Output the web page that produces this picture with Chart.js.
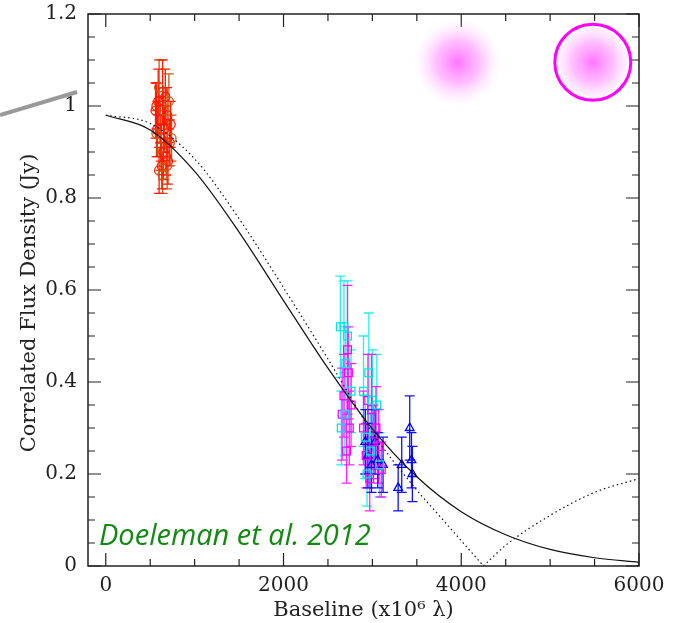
<!DOCTYPE html>
<html>
<head>
<meta charset="utf-8">
<script src="https://cdn.jsdelivr.net/npm/chart.js@4/dist/chart.umd.min.js"></script>
<style>
  html, body { margin: 0; padding: 0; background: #fff; }
  canvas { display: block; }
</style>
</head>
<body>
<canvas id="visChart" width="678" height="623"></canvas>
<script>
// model curves, read along baseline (x10^6 lambda)
const modelX = [0, 500, 1000, 1500, 2000, 2500, 3000, 3500, 4000, 4500, 5000, 5500, 6000];
const gaussY = [0.98, 0.948, 0.858, 0.726, 0.577, 0.43, 0.298, 0.194, 0.118, 0.068, 0.036, 0.018, 0.008];

const ringX = [0, 500, 1000, 1500, 2000, 2500, 3000, 3500, 3750, 4000, 4250, 4500, 5000, 5500, 6000];
const ringY = [0.98, 0.962, 0.885, 0.755, 0.605, 0.45, 0.29, 0.165, 0.11, 0.055, 0.0, 0.045, 0.11, 0.16, 0.19];

// measured points: [baseline, flux, sigma]
const redPts = [
  [560, 0.99, 0.06], [590, 1.01, 0.07], [610, 0.97, 0.05], [640, 1.03, 0.07],
  [660, 0.95, 0.05], [690, 0.98, 0.06], [620, 0.93, 0.05], [650, 0.90, 0.06],
  [700, 0.88, 0.05], [600, 0.86, 0.05], [720, 0.92, 0.05], [580, 0.95, 0.06],
  [730, 0.96, 0.05], [570, 1.00, 0.05], [680, 0.89, 0.04], [630, 0.87, 0.05],
  [670, 1.02, 0.06]
];
const orangePts = [
  [600, 1.04, 0.06], [650, 0.99, 0.05], [710, 1.01, 0.06], [620, 0.91, 0.05],
  [690, 0.87, 0.05], [570, 0.94, 0.05], [740, 0.93, 0.05], [640, 0.85, 0.04]
];
const cyanPts = [
  [2640, 0.52, 0.11], [2680, 0.52, 0.10], [2720, 0.50, 0.12], [2700, 0.44, 0.08],
  [2760, 0.38, 0.09], [2650, 0.30, 0.08], [2690, 0.33, 0.09], [2900, 0.38, 0.12],
  [2960, 0.42, 0.13], [3000, 0.36, 0.11], [2920, 0.28, 0.09], [2980, 0.25, 0.08],
  [3050, 0.35, 0.11], [3080, 0.22, 0.07], [2940, 0.20, 0.07]
];
const magentaPts = [
  [2660, 0.33, 0.10], [2720, 0.47, 0.14], [2730, 0.42, 0.10], [2680, 0.37, 0.09],
  [2740, 0.30, 0.08], [2760, 0.35, 0.09], [2710, 0.25, 0.07], [2900, 0.30, 0.08],
  [2950, 0.36, 0.10], [2990, 0.34, 0.12], [2930, 0.24, 0.07], [3010, 0.27, 0.08],
  [3040, 0.30, 0.09], [3070, 0.26, 0.08], [2970, 0.19, 0.07], [3100, 0.21, 0.06]
];
const bluePts = [
  [2920, 0.27, 0.07], [2950, 0.24, 0.07], [2990, 0.22, 0.06], [3030, 0.27, 0.07],
  [3060, 0.23, 0.06], [3120, 0.22, 0.06], [3290, 0.17, 0.05], [3330, 0.22, 0.06],
  [3420, 0.30, 0.07], [3440, 0.23, 0.06], [3450, 0.20, 0.06]
];

const xMajor = [0, 2000, 4000, 6000];
const yMajor = [0, 0.2, 0.4, 0.6, 0.8, 1, 1.2];
const yTitle = 'Correlated Flux Density (Jy)';

const toXY = pts => pts.map(p => ({ x: p[0], y: p[1], err: p[2] }));
const zipXY = (xs, ys) => xs.map((x, i) => ({ x: x, y: ys[i] }));

const serif = '"DejaVu Serif", serif';

function pointSet(pts, color, barColor, style, r) {
  return {
    type: 'scatter',
    data: toXY(pts),
    pointStyle: style,
    pointRadius: r,
    borderColor: color,
    backgroundColor: 'rgba(0,0,0,0)',
    borderWidth: 1.3,
    errColor: barColor
  };
}

// error bars drawn under the markers
const errorBars = {
  id: 'errorBars',
  beforeDatasetsDraw(chart) {
    const ctx = chart.ctx;
    const xs = chart.scales.x, ys = chart.scales.y;
    ctx.save();
    chart.data.datasets.forEach(ds => {
      if (!ds.errColor) return;
      ctx.strokeStyle = ds.errColor;
      ctx.lineWidth = 1.3;
      ds.data.forEach(d => {
        const px = xs.getPixelForValue(d.x);
        const top = ys.getPixelForValue(d.y + d.err);
        const bot = ys.getPixelForValue(d.y - d.err);
        ctx.beginPath();
        ctx.moveTo(px, top); ctx.lineTo(px, bot);
        ctx.moveTo(px - 5, top); ctx.lineTo(px + 5, top);
        ctx.moveTo(px - 5, bot); ctx.lineTo(px + 5, bot);
        ctx.stroke();
      });
    });
    ctx.restore();
  }
};

// frame with inward ticks on all four sides
const frame = {
  id: 'frame',
  afterDraw(chart) {
    const ctx = chart.ctx, a = chart.chartArea;
    const xs = chart.scales.x, ys = chart.scales.y;
    ctx.save();
    ctx.strokeStyle = '#222';
    ctx.lineWidth = 1.5;
    ctx.strokeRect(a.left, a.top, a.right - a.left, a.bottom - a.top);
    ctx.lineWidth = 1.2;
    ctx.beginPath();
    for (let v = 0; v <= 6000; v += 500) {
      const len = v % 2000 === 0 ? 13 : 7;
      const px = xs.getPixelForValue(v);
      ctx.moveTo(px, a.bottom); ctx.lineTo(px, a.bottom - len);
      ctx.moveTo(px, a.top); ctx.lineTo(px, a.top + len);
    }
    for (let i = 0; i <= 24; i++) {
      const v = i * 0.05;
      const len = i % 4 === 0 ? 13 : 7;
      const py = ys.getPixelForValue(v);
      ctx.moveTo(a.left, py); ctx.lineTo(a.left + len, py);
      ctx.moveTo(a.right, py); ctx.lineTo(a.right - len, py);
    }
    ctx.stroke();

    // y title sits a little below the middle of the frame
    ctx.translate(30, (a.top + a.bottom) / 2 + 13);
    ctx.rotate(-Math.PI / 2);
    ctx.fillStyle = '#222';
    ctx.font = '21px ' + serif;
    ctx.textAlign = 'center';
    ctx.textBaseline = 'middle';
    ctx.fillText(yTitle, 0, 0);
    ctx.restore();
  }
};

// source images and citation on top of the plot
const extras = {
  id: 'extras',
  afterDraw(chart) {
    const ctx = chart.ctx, a = chart.chartArea;
    const xs = chart.scales.x, ys = chart.scales.y;
    ctx.save();

    function blob(cx, cy, r) {
      const g = ctx.createRadialGradient(cx, cy, 0, cx, cy, r);
      g.addColorStop(0, 'rgba(255,90,255,0.85)');
      g.addColorStop(0.5, 'rgba(255,140,255,0.55)');
      g.addColorStop(1, 'rgba(255,220,255,0)');
      ctx.fillStyle = g;
      ctx.beginPath();
      ctx.arc(cx, cy, r, 0, Math.PI * 2);
      ctx.fill();
    }
    const b1x = xs.getPixelForValue(3960), b2x = xs.getPixelForValue(5480);
    const by = ys.getPixelForValue(1.095);
    blob(b1x, by, 44);
    blob(b2x, by, 42);
    ctx.strokeStyle = '#ff00ff';
    ctx.lineWidth = 3;
    ctx.beginPath();
    ctx.arc(b2x, by, 38, 0, Math.PI * 2);
    ctx.stroke();

    // grey pointer line outside the frame
    ctx.strokeStyle = '#999';
    ctx.lineWidth = 4;
    ctx.beginPath();
    ctx.moveTo(0, 115);
    ctx.lineTo(77, 92);
    ctx.stroke();

    ctx.fillStyle = '#128a12';
    ctx.font = 'italic 29px "Open Sans", sans-serif';
    ctx.textBaseline = 'alphabetic';
    ctx.fillText('Doeleman et al. 2012', a.left + 11, 545);
    ctx.restore();
  }
};

new Chart(document.getElementById('visChart'), {
  type: 'scatter',
  data: {
    datasets: [
      {
        type: 'line', data: zipXY(modelX, gaussY), borderColor: '#111', borderWidth: 1.2,
        pointRadius: 0, cubicInterpolationMode: 'monotone', fill: false
      },
      {
        type: 'line', data: zipXY(ringX.slice(0, 11), ringY.slice(0, 11)), borderColor: '#111',
        borderWidth: 1.2, borderDash: [1.5, 3], pointRadius: 0, cubicInterpolationMode: 'monotone', fill: false
      },
      {
        type: 'line', data: zipXY(ringX.slice(10), ringY.slice(10)), borderColor: '#111',
        borderWidth: 1.2, borderDash: [1.5, 3], pointRadius: 0, cubicInterpolationMode: 'monotone', fill: false
      },
      pointSet(cyanPts, '#00e5e5', '#22f0f0', 'rect', 5.5),
      pointSet(magentaPts, '#ff00ff', '#ff22ff', 'rect', 5.5),
      pointSet(bluePts, '#0000ee', '#1010ff', 'triangle', 5),
      pointSet(orangePts, '#c85a10', '#c85a10', 'circle', 4.5),
      pointSet(redPts, '#ff1a00', '#ff1a00', 'circle', 4.5)
    ]
  },
  options: {
    responsive: false,
    animation: false,
    devicePixelRatio: 1,
    layout: { padding: { left: 0, right: 39, top: 14, bottom: 0 } },
    plugins: { legend: { display: false }, tooltip: { enabled: false } },
    scales: {
      x: {
        type: 'linear', min: -200, max: 6000,
        grid: { display: false, drawTicks: false },
        border: { display: false },
        afterBuildTicks: s => { s.ticks = xMajor.map(v => ({ value: v })); },
        afterFit: s => { s.height = 57; },
        ticks: { color: '#222', padding: 8, font: { family: serif, size: 20 }, callback: v => String(v) },
        title: { display: true, text: 'Baseline (x10\u2076 \u03bb)', color: '#222', padding: { top: 0, bottom: 0 }, font: { family: serif, size: 21 } }
      },
      y: {
        min: 0, max: 1.2,
        grid: { display: false, drawTicks: false },
        border: { display: false },
        afterBuildTicks: s => { s.ticks = yMajor.map(v => ({ value: v })); },
        afterFit: s => { s.width = 88; s.paddingTop = 0; s.paddingBottom = 0; },
        ticks: { color: '#222', padding: 11, font: { family: serif, size: 20, lineHeight: 0.6 }, callback: v => String(v) },
        title: { display: false }
      }
    }
  },
  plugins: [errorBars, frame, extras]
});
</script>
</body>
</html>
